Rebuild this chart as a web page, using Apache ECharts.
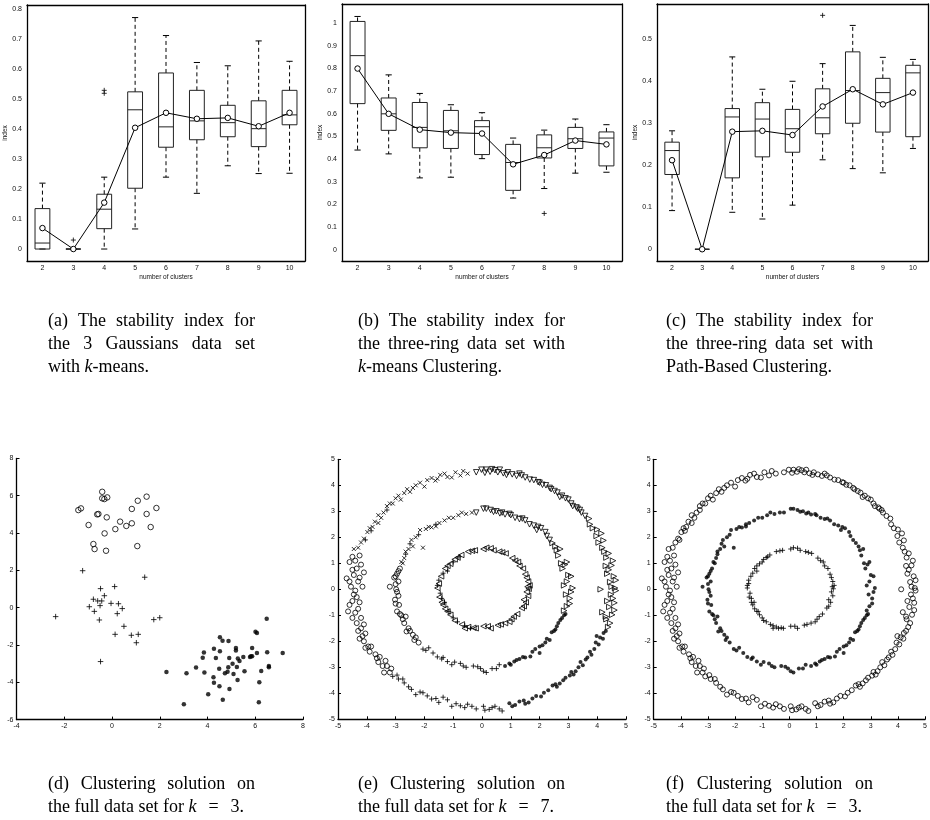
<!DOCTYPE html>
<html><head><meta charset="utf-8">
<script src="https://cdn.jsdelivr.net/npm/echarts@6/dist/echarts.min.js"></script>
<style>html,body{margin:0;padding:0;background:#fff}#c{width:930px;height:820px}</style>
</head><body><div id="c"></div>
<script>
// ---------- data: box plots ----------
const boxCats = ['2','3','4','5','6','7','8','9','10'];
// [lower whisker, Q1, median, Q3, upper whisker]
const boxA = [
 [0, 0, 0.02, 0.135, 0.22],
 [0, 0, 0, 0, 0],
 [0, 0.068, 0.133, 0.183, 0.24],
 [0.067, 0.203, 0.465, 0.525, 0.773],
 [0.24, 0.34, 0.408, 0.588, 0.713],
 [0.186, 0.365, 0.428, 0.53, 0.623],
 [0.278, 0.375, 0.422, 0.48, 0.612],
 [0.252, 0.342, 0.402, 0.495, 0.695],
 [0.253, 0.415, 0.448, 0.53, 0.627]
];
const meanA = [0.07, 0.0, 0.155, 0.405, 0.455, 0.435, 0.438, 0.41, 0.455];
const outA = [[1, 0.03], [2, 0.52], [2, 0.53]];

const boxB = [
 [0.44, 0.645, 0.857, 1.008, 1.03],
 [0.423, 0.527, 0.60, 0.67, 0.772],
 [0.317, 0.45, 0.54, 0.65, 0.69],
 [0.32, 0.447, 0.525, 0.615, 0.64],
 [0.402, 0.42, 0.543, 0.57, 0.605],
 [0.228, 0.262, 0.385, 0.465, 0.493],
 [0.27, 0.405, 0.45, 0.507, 0.528],
 [0.338, 0.447, 0.49, 0.54, 0.577],
 [0.342, 0.37, 0.493, 0.52, 0.552]
];
const meanB = [0.80, 0.60, 0.53, 0.517, 0.513, 0.377, 0.418, 0.482, 0.465];
const outB = [[6, 0.16]];

const boxC = [
 [0.092, 0.178, 0.235, 0.255, 0.282],
 [0, 0, 0, 0, 0],
 [0.088, 0.17, 0.315, 0.335, 0.458],
 [0.072, 0.22, 0.31, 0.349, 0.381],
 [0.105, 0.231, 0.287, 0.333, 0.40],
 [0.213, 0.275, 0.313, 0.382, 0.442],
 [0.192, 0.30, 0.378, 0.47, 0.533],
 [0.182, 0.279, 0.373, 0.407, 0.457],
 [0.24, 0.268, 0.42, 0.438, 0.452]
];
const meanC = [0.212, 0, 0.28, 0.282, 0.272, 0.34, 0.381, 0.345, 0.373];
const outC = [[5, 0.557]];

// ---------- data: 3 Gaussians (panel d) ----------
const gCircle = [[-1.41,5.23],[-1.30,5.32],[-0.41,6.21],[-0.41,5.86],[-0.32,5.82],[-0.20,5.91],[-0.62,5.0],[-0.57,5.02],[-0.22,4.84],[-0.98,4.43],[-0.31,3.98],[-0.78,3.41],[-0.73,3.14],[-0.25,3.05],[0.14,4.21],[0.34,4.61],[0.60,4.38],[0.83,4.52],[0.83,5.29],[1.08,5.73],[1.45,5.95],[1.45,5.02],[1.86,5.34],[1.62,4.32],[1.06,3.30]];
const gPlus = [[-1.23,1.98],[1.37,1.63],[-0.48,1.02],[0.11,1.13],[-0.32,0.64],[-0.78,0.45],[-0.60,0.36],[-0.43,0.36],[-0.95,0.05],[-0.50,0.11],[-0.74,-0.20],[-0.04,0.23],[0.27,0.21],[0.22,-0.32],[0.43,-0.05],[-0.53,-0.66],[0.50,-1.0],[0.13,-1.43],[0.81,-1.48],[1.10,-1.43],[1.02,-1.88],[1.75,-0.64],[2.0,-0.54],[-2.36,-0.48],[-0.48,-2.89]];
const gDot = [[4.52,-1.59],[4.63,-1.77],[4.88,-1.79],[6.01,-1.29],[6.07,-1.36],[6.48,-0.59],[5.19,-2.16],[5.19,-2.30],[5.87,-2.16],[5.82,-2.61],[5.87,-2.61],[5.78,-2.64],[6.07,-2.43],[6.50,-2.39],[7.15,-2.43],[4.27,-2.20],[4.52,-2.34],[3.85,-2.41],[3.80,-2.68],[4.35,-2.70],[4.91,-2.70],[5.27,-2.73],[5.34,-2.86],[5.5,-2.65],[5.05,-3.0],[4.87,-3.20],[4.49,-3.27],[5.23,-3.18],[3.52,-3.21],[3.12,-3.52],[3.87,-3.48],[4.73,-3.52],[4.84,-3.43],[5.09,-3.55],[5.55,-3.41],[6.25,-3.39],[6.57,-3.13],[6.57,-3.20],[4.25,-3.73],[4.27,-4.02],[5.26,-3.88],[6.17,-4.0],[4.50,-4.21],[4.92,-4.36],[4.03,-4.64],[4.64,-4.93],[6.15,-5.07],[3.01,-5.18],[2.28,-3.45]];

// ---------- data: three rings (panels e, f), grouped by ring and by k=7 label ----------
const outerTriR = [[4.38,-1.45],[4.32,-1.15],[4.52,-0.98],[4.42,-0.68],[4.6,-0.52],[4.48,-0.2],[4.62,0.05],[4.45,0.28],[4.58,0.5],[4.4,0.75],[4.5,0.92],[4.32,1.22],[4.4,1.38],[4.18,1.6],[4.22,1.88],[3.98,2.05],[4.0,2.3],[3.75,2.5],[3.72,2.72],[4.12,0.0],[4.18,-0.88],[4.3,-1.05],[4.55,-0.35],[4.35,0.6],
  [4.45,-1.3],[4.6,-0.8],[4.35,-0.45],[4.5,0.1],[4.65,0.35],[4.3,0.9],[4.55,1.1],[4.25,1.45],[4.05,1.8],[4.15,2.15],[3.85,2.35],[4.65,-0.05]];
const outerTriD = [[3.58,2.82],[3.32,3.1],[3.28,3.15],[3.0,3.45],[2.9,3.5],[2.62,3.72],[2.52,3.78],[2.22,4.0],[2.1,4.02],[1.8,4.2],[1.66,4.22],[1.38,4.38],[1.2,4.36],[0.9,4.5],[0.74,4.46],[0.45,4.58],[0.28,4.52],[-0.02,4.6],[-0.2,4.5],[0.55,4.5],[1.05,4.42],[2.35,3.9],[3.45,2.95],[3.1,3.3],[0.1,4.48],
  [3.4,3.05],[3.15,3.2],[2.78,3.6],[2.4,3.85],[1.95,4.12],[1.5,4.3],[1.3,4.45],[0.85,4.4],[0.62,4.6],[0.35,4.62],[0.15,4.6],[2.0,4.1],[2.7,3.55]];
const outerCross = [[-0.5,4.45],[-0.75,4.38],[-0.92,4.5],[-1.2,4.32],[-1.45,4.4],[-1.62,4.18],[-1.9,4.2],[-2.0,3.95],[-2.3,4.0],[-2.5,3.75],[-2.6,3.85],[-2.82,3.45],[-3.1,3.3],[-3.2,3.3],[-3.42,2.95],[-3.5,2.75],[-3.72,2.6],[-3.8,2.4],[-3.98,2.2],[-4.1,1.95],[-4.2,1.8],[-4.45,1.55],[-1.05,4.3],[-2.15,4.1],[-2.9,3.6],[-3.6,2.55],
  [-0.65,4.55],[-1.3,4.45],[-1.75,4.28],[-2.4,3.9],[-2.7,3.7],[-3.0,3.5],[-3.3,3.2],[-3.6,2.85],[-3.9,2.35],[-4.3,1.6],[-1.55,4.25]];
const outerPlus = [[-3.1,-3.35],[-2.9,-3.45],[-2.7,-3.6],[-2.55,-3.75],[-2.3,-4.05],[-2.05,-3.98],[-1.9,-4.1],[-1.6,-4.2],[-1.5,-4.35],[-1.2,-4.25],[-1.05,-4.5],[-0.75,-4.48],[-0.5,-4.42],[-0.2,-4.6],[0.05,-4.5],[0.25,-4.62],[0.45,-4.5],[0.7,-4.68],[-2.75,-3.45],[-1.35,-4.15],[-3.85,2.25],[-4.05,1.9],[-3.3,3.05],
  [-2.95,-3.3],[-2.45,-3.85],[-2.15,-3.95],[-1.75,-4.22],[-0.9,-4.4],[-0.6,-4.55],[-0.35,-4.5],[0.1,-4.65],[0.35,-4.55],[0.6,-4.6]];
const outerCircle = [[-4.25,1.3],[-4.4,1.1],[-4.2,0.95],[-4.35,0.8],[-4.1,0.65],[-4.45,0.55],[-4.7,0.42],[-4.3,0.3],[-4.55,0.1],[-4.4,-0.05],[-4.35,-0.3],[-4.6,-0.6],[-4.3,-0.75],[-4.4,-0.9],[-4.65,-0.85],[-4.2,-1.1],[-4.35,-1.3],[-4.2,-1.5],[-4.05,-1.7],[-4.25,-1.9],[-4.1,-2.0],[-3.95,-2.2],[-3.9,-2.4],[-3.7,-2.5],[-3.55,-2.6],[-3.6,-2.8],[-3.35,-2.75],[-3.3,-2.95],[-3.2,-3.2],[-3.15,-3.05],[-3.4,-3.2],[-4.5,1.25],[-4.15,0.1],[-4.5,-0.45],
  [-4.6,1.05],[-4.5,0.75],[-4.25,0.45],[-4.6,0.3],[-4.45,-0.2],[-4.25,-0.5],[-4.5,-1.1],[-4.1,-1.35],[-4.3,-1.6],[-4.15,-1.8],[-3.85,-2.2],[-3.65,-2.65],[-3.45,-2.95],[-4.05,-2.25]];
const outerDot = [[0.95,-4.38],[1.15,-4.45],[1.45,-4.28],[1.62,-4.35],[1.88,-4.1],[2.05,-4.12],[2.3,-3.88],[2.45,-3.7],[2.7,-3.62],[2.82,-3.5],[3.05,-3.32],[3.18,-3.28],[3.35,-3.0],[3.5,-2.92],[3.66,-2.62],[3.8,-2.52],[3.9,-2.3],[4.05,-2.12],[4.1,-1.85],[4.22,-1.68],[3.98,-1.8],[1.3,-4.32],[2.6,-3.75],[3.25,-3.15],
  [1.05,-4.5],[1.5,-4.4],[1.75,-4.2],[2.15,-3.98],[2.55,-3.65],[2.9,-3.4],[3.1,-3.18],[3.42,-2.8],[3.6,-2.7],[3.75,-2.4],[3.95,-2.05],[4.2,-1.9],[4.3,-1.6]];

const midTriR = [[2.85,-0.82],[3.05,-0.55],[2.92,-0.2],[3.15,0.05],[2.95,0.3],[3.1,0.5],[2.8,0.8],[2.95,1.05],[2.65,1.3],[2.72,1.55],[2.45,1.78],[3.05,-0.35],[2.85,0.15],[2.75,1.0],
  [2.95,-0.65],[3.1,-0.1],[3.0,0.55],[2.88,0.95],[2.6,1.5],[2.55,1.65]];
const midTriD = [[2.35,1.9],[2.2,2.2],[1.9,2.28],[1.8,2.45],[1.5,2.65],[1.3,2.7],[1.0,2.85],[0.8,2.88],[0.5,3.0],[0.3,3.05],[0.05,3.1],[-0.2,2.95],[1.15,2.75],[0.62,2.92],[2.05,2.35],
  [2.25,2.05],[1.95,2.4],[1.65,2.5],[1.4,2.72],[0.95,2.9],[0.7,2.95],[0.4,2.98],[0.15,3.1]];
const midCross = [[-0.55,2.9],[-0.82,2.85],[-1.0,2.75],[-1.3,2.65],[-1.48,2.55],[-1.75,2.38],[-1.95,2.32],[-2.15,2.28],[-2.3,2.0],[-2.4,1.65],[-2.65,1.45],[-2.7,1.2],[-2.8,1.05],[-2.05,1.6],[-0.35,2.95],
  [-0.7,2.95],[-1.15,2.75],[-1.6,2.42],[-1.85,2.4],[-2.45,1.9],[-2.55,1.55],[-2.75,1.0]];
const midPlus = [[-2.05,-2.3],[-1.85,-2.25],[-1.7,-2.45],[-1.55,-2.6],[-1.35,-2.62],[-1.2,-2.78],[-0.95,-2.8],[-0.75,-2.85],[-0.55,-3.0],[-0.3,-2.95],[-0.05,-3.05],[0.15,-3.2],[0.35,-3.05],[0.6,-2.9],[-2.5,1.75],[-2.65,1.35],[-1.6,2.5],[-2.2,2.1],
  [-1.95,-2.35],[-1.4,-2.68],[-1.05,-2.9],[-0.65,-2.95],[-0.15,-2.98],[0.05,-3.15],[0.5,-3.05]];
const midCircle = [[-2.85,0.8],[-2.95,0.6],[-3.05,0.45],[-2.9,0.3],[-3.2,0.1],[-2.98,0.0],[-2.9,-0.25],[-3.02,-0.4],[-2.88,-0.6],[-2.95,-0.85],[-2.8,-1.0],[-2.65,-1.05],[-2.7,-1.3],[-2.55,-1.5],[-2.62,-1.62],[-2.4,-1.75],[-2.35,-1.95],[-2.2,-2.05],[-3.0,0.2],
  [-2.9,0.7],[-3.0,0.5],[-2.95,-0.1],[-3.0,-0.55],[-2.85,-0.95],[-2.75,-1.15],[-2.5,-1.6],[-2.3,-1.85]];
const midDot = [[0.8,-2.95],[0.95,-2.85],[1.12,-2.78],[1.3,-2.68],[1.5,-2.62],[1.68,-2.58],[1.85,-2.3],[2.0,-2.2],[2.2,-2.05],[2.35,-1.95],[2.42,-1.65],[2.55,-1.55],[2.65,-1.3],[2.72,-1.18],[2.85,-1.0],[2.0,-2.45],
  [1.0,-2.9],[1.2,-2.72],[1.42,-2.6],[1.75,-2.4],[2.1,-2.15],[2.25,-1.9],[2.5,-1.6],[2.6,-1.42],[2.78,-1.1],[2.9,-0.95]];

const innerTriL = [[1.62,0.02],[1.6,0.3],[1.5,0.58],[1.42,0.8],[1.25,1.05],[1.05,1.2],[0.82,1.38],[0.6,1.45],[0.3,1.58],[0.05,1.55],[-0.25,1.5],[-0.48,1.45],[-0.72,1.32],[-0.95,1.15],[-1.1,0.98],[-1.28,0.8],[-1.42,0.5],[-1.5,0.22],[-1.55,0.05],[-1.48,-0.3],[-1.4,-0.5],[-1.28,-0.75],[-1.1,-0.98],[-0.95,-1.2],[-0.7,-1.35],[-0.48,-1.45],[-0.22,-1.5],[0.05,-1.42],[0.3,-1.5],[0.55,-1.38],[0.8,-1.3],[1.02,-1.15],[1.22,-0.95],[1.38,-0.72],[1.52,-0.5],[1.6,-0.25],[1.55,-0.1],[0.4,1.5],[1.3,0.9],[-0.6,-1.5],[0.95,-1.25],[1.45,-0.65],
  [1.65,0.15],[1.55,0.45],[1.15,1.1],[0.7,1.42],[0.15,1.6],[-0.35,1.48],[-0.85,1.22],[-1.2,0.9],[-1.35,-0.6],[-1.2,-0.85],[-0.3,-1.48],[0.2,-1.42],[0.65,-1.35],[1.1,-1.05],[1.45,-0.4],[1.58,0.1]];
const innerPlus = [[-1.35,0.62],[-1.2,0.7],[-1.55,0.15],[-1.45,-0.15],[-1.3,-0.5],[-1.15,-0.85],[-0.85,-1.25],[-0.4,-1.5],[-1.0,1.05],[-0.8,1.25],
  [-1.5,0.35],[-1.4,-0.35],[-1.0,-1.1],[-0.6,-1.4]];

// ---------- captions ----------
const capTop = [
  ['(a) The stability index for', 'the 3 Gaussians data set', 'with {i|k}-means.'],
  ['(b) The stability index for', 'the three-ring data set with', '{i|k}-means Clustering.'],
  ['(c) The stability index for', 'the three-ring data set with', 'Path-Based Clustering.']
];
const capBot = [
  ['(d) Clustering solution on', 'the full data set for {i|k}\u2002\u2006=\u2002\u20063.'],
  ['(e) Clustering solution on', 'the full data set for {i|k}\u2002\u2006=\u2002\u20067.'],
  ['(f) Clustering solution on', 'the full data set for {i|k}\u2002\u2006=\u2002\u20063.']
];

// ---------- chart ----------
const PLUS = 'path://M0,5L10,5M5,0L5,10';
const CROSS = 'path://M0,0L10,10M10,0L0,10';
const BLACK = '#000';
const tickSty = {inside: true, length: 3, lineStyle: {color: BLACK, width: 1}};
const lineSty = {show: true, onZero: false, lineStyle: {color: BLACK, width: 1.3}};
const labSty = {fontSize: 7, color: '#111', fontFamily: 'Liberation Sans', margin: 3};
const nameSty = {fontSize: 6.5, color: '#111', fontFamily: 'Liberation Sans'};

const topGrids = [
  {left: 27, top: 5, width: 278, height: 256},
  {left: 342, top: 4, width: 280, height: 257},
  {left: 657, top: 4, width: 271, height: 257}
];
const topY = [[-0.04, 0.815, 8], [-0.05, 1.085, 11], [-0.028, 0.584, 6]];
const botGrids = [
  {left: 16.5, top: 458.4, width: 286.5, height: 261.2},
  {left: 338, top: 459.3, width: 288, height: 260},
  {left: 653.7, top: 459.3, width: 288, height: 260}
];
const botRange = [[-4, 8, 2, -6, 8, 2], [-5, 5, 1, -5, 5, 1], [-5, 5, 1, -5, 5, 1]];

const grids = [], xAxes = [], yAxes = [], series = [];
topGrids.forEach(g => grids.push(Object.assign({containLabel: false}, g)));
botGrids.forEach(g => grids.push(Object.assign({containLabel: false}, g)));

for (let i = 0; i < 3; i++) {
  xAxes.push({type: 'category', gridIndex: i, data: boxCats, position: 'bottom',
    axisLine: lineSty, axisTick: Object.assign({alignWithLabel: true}, tickSty),
    axisLabel: Object.assign({}, labSty, {margin: 4}), splitLine: {show: false},
    name: 'number of clusters', nameLocation: 'middle', nameGap: 13, nameTextStyle: nameSty});
}
for (let i = 0; i < 3; i++) {
  xAxes.push({type: 'category', gridIndex: i, data: boxCats, position: 'top',
    axisLine: lineSty, axisTick: Object.assign({alignWithLabel: true}, tickSty),
    axisLabel: {show: false}, splitLine: {show: false}});
}
for (let i = 0; i < 3; i++) {
  const r = botRange[i];
  xAxes.push({type: 'value', gridIndex: 3 + i, min: r[0], max: r[1], interval: r[2], position: 'bottom',
    axisLine: lineSty, axisTick: tickSty, axisLabel: Object.assign({}, labSty, {margin: 3}), splitLine: {show: false}});
}
for (let i = 0; i < 3; i++) {
  const r = topY[i];
  yAxes.push({type: 'value', gridIndex: i, min: r[0], max: r[1], splitNumber: r[2], position: 'left',
    axisLine: lineSty, axisTick: tickSty,
    axisLabel: Object.assign({}, labSty, {margin: 5, showMinLabel: false, showMaxLabel: false}),
    splitLine: {show: false},
    name: 'index', nameLocation: 'middle', nameGap: 16, nameTextStyle: nameSty});
}
for (let i = 0; i < 3; i++) {
  const r = topY[i];
  yAxes.push({type: 'value', gridIndex: i, min: r[0], max: r[1], splitNumber: r[2], position: 'right',
    axisLine: lineSty, axisTick: tickSty, axisLabel: {show: false}, splitLine: {show: false}});
}
for (let i = 0; i < 3; i++) {
  const r = botRange[i];
  yAxes.push({type: 'value', gridIndex: 3 + i, min: r[3], max: r[4], interval: r[5], position: 'left',
    axisLine: lineSty, axisTick: tickSty, axisLabel: Object.assign({}, labSty, {margin: 3}), splitLine: {show: false}});
}

function renderBox(params, api) {
  const i = api.value(0);
  const v = [1, 2, 3, 4, 5].map(k => api.value(k));
  const bw = api.size([1, 0])[0];
  const half = bw * 0.24, cap = bw * 0.1;
  const x = api.coord([i, v[2]])[0];
  const y = v.map(val => api.coord([i, val])[1]);
  const solid = {stroke: BLACK, lineWidth: 1, fill: null};
  const dash = {stroke: BLACK, lineWidth: 1, lineDash: [4, 3], fill: null};
  return {type: 'group', children: [
    {type: 'line', shape: {x1: x, y1: y[3], x2: x, y2: y[4]}, style: dash},
    {type: 'line', shape: {x1: x, y1: y[1], x2: x, y2: y[0]}, style: dash},
    {type: 'line', shape: {x1: x - cap, y1: y[4], x2: x + cap, y2: y[4]}, style: solid},
    {type: 'line', shape: {x1: x - cap, y1: y[0], x2: x + cap, y2: y[0]}, style: solid},
    {type: 'rect', shape: {x: x - half, y: y[3], width: 2 * half, height: Math.max(y[1] - y[3], 0.01)},
      style: {stroke: '#222', lineWidth: 1, fill: null}},
    {type: 'line', shape: {x1: x - half, y1: y[2], x2: x + half, y2: y[2]}, style: {stroke: '#222', lineWidth: 1}}
  ]};
}

const hollow = {color: 'rgba(255,255,255,0)', borderColor: BLACK, borderWidth: 1};
const strokeOnly = {color: 'rgba(255,255,255,0)', borderColor: BLACK, borderWidth: 1};
const filled = {color: BLACK, borderWidth: 0};

[[boxA, meanA, outA], [boxB, meanB, outB], [boxC, meanC, outC]].forEach((p, i) => {
  series.push({type: 'custom', xAxisIndex: i, yAxisIndex: i, renderItem: renderBox,
    data: p[0].map((b, k) => [k].concat(b)), encode: {x: 0, y: [1, 2, 3, 4, 5]}, z: 2, silent: true});
  series.push({type: 'line', xAxisIndex: i, yAxisIndex: i, data: p[1], symbol: 'circle', symbolSize: 5.5,
    lineStyle: {color: BLACK, width: 1}, itemStyle: {color: '#fff', borderColor: BLACK, borderWidth: 1}, z: 3, silent: true});
  series.push({type: 'scatter', xAxisIndex: i, yAxisIndex: i, data: p[2], symbol: PLUS, symbolSize: 5,
    itemStyle: strokeOnly, z: 3, silent: true});
});

function sc(ax, data, symbol, size, style, rot) {
  series.push({type: 'scatter', xAxisIndex: ax, yAxisIndex: ax, data: data, symbol: symbol, symbolSize: size,
    symbolRotate: rot || 0, itemStyle: style, silent: true, z: 3});
}
// panel d
sc(6, gCircle, 'circle', 5.5, hollow);
sc(6, gPlus, PLUS, 5.5, strokeOnly);
sc(6, gDot, 'circle', 4.5, filled);
// panel e (k = 7)
sc(7, outerCircle.concat(midCircle), 'circle', 5, hollow);
sc(7, outerPlus.concat(midPlus, innerPlus), PLUS, 5, strokeOnly);
sc(7, outerDot.concat(midDot), 'circle', 4, filled);
sc(7, outerTriR.concat(midTriR), 'triangle', 5.5, hollow, -90);
sc(7, outerTriD.concat(midTriD), 'triangle', 5.5, hollow, 180);
sc(7, outerCross.concat(midCross), CROSS, 4, strokeOnly);
sc(7, innerTriL, 'triangle', 5.5, hollow, 90);
// panel f (k = 3): one cluster per ring
sc(8, outerTriR.concat(outerTriD, outerCross, outerPlus, outerCircle, outerDot), 'circle', 5, hollow);
sc(8, midTriR.concat(midTriD, midCross, midPlus, midCircle, midDot), 'circle', 4, filled);
sc(8, innerTriL.concat(innerPlus), PLUS, 5, strokeOnly);

// captions (justified like the original)
const CAP_FS = 18, CAP_FF = '"Liberation Serif", "Times New Roman", serif';
const meas = document.createElement('canvas').getContext('2d');
meas.font = CAP_FS + 'px ' + CAP_FF;
const graphics = [];
const richI = {i: {fontStyle: 'italic', fontSize: CAP_FS, fontFamily: CAP_FF, fill: BLACK}};
function capText(text, x, y) {
  graphics.push({type: 'text', x: x, y: y, silent: true,
    style: {text: text, fontSize: CAP_FS, fontFamily: CAP_FF, fill: BLACK, verticalAlign: 'middle', align: 'left', rich: richI}});
}
function justified(text, x, y, w) {
  const words = text.split(' ');
  const widths = words.map(t => meas.measureText(t).width);
  const total = widths.reduce((a, b) => a + b, 0);
  const gap = Math.max(2, (w - total) / (words.length - 1));
  let cx = x;
  words.forEach((t, k) => { capText(t, cx, y); cx += widths[k] + gap; });
}
function captions(list, xs, ys) {
  list.forEach((lines, i) => {
    lines.forEach((ln, j) => {
      if (j < lines.length - 1) justified(ln, xs[i], ys[j], 207);
      else capText(ln, xs[i], ys[j]);
    });
  });
}
captions(capTop, [48, 358, 666], [321, 344, 367]);
captions(capBot, [48, 358, 666], [784, 807]);

const chart = echarts.init(document.getElementById('c'), null, {renderer: 'canvas'});
chart.setOption({
  animation: false,
  backgroundColor: '#fff',
  grid: grids, xAxis: xAxes, yAxis: yAxes, series: series, graphic: graphics
});
</script>
</body></html>
